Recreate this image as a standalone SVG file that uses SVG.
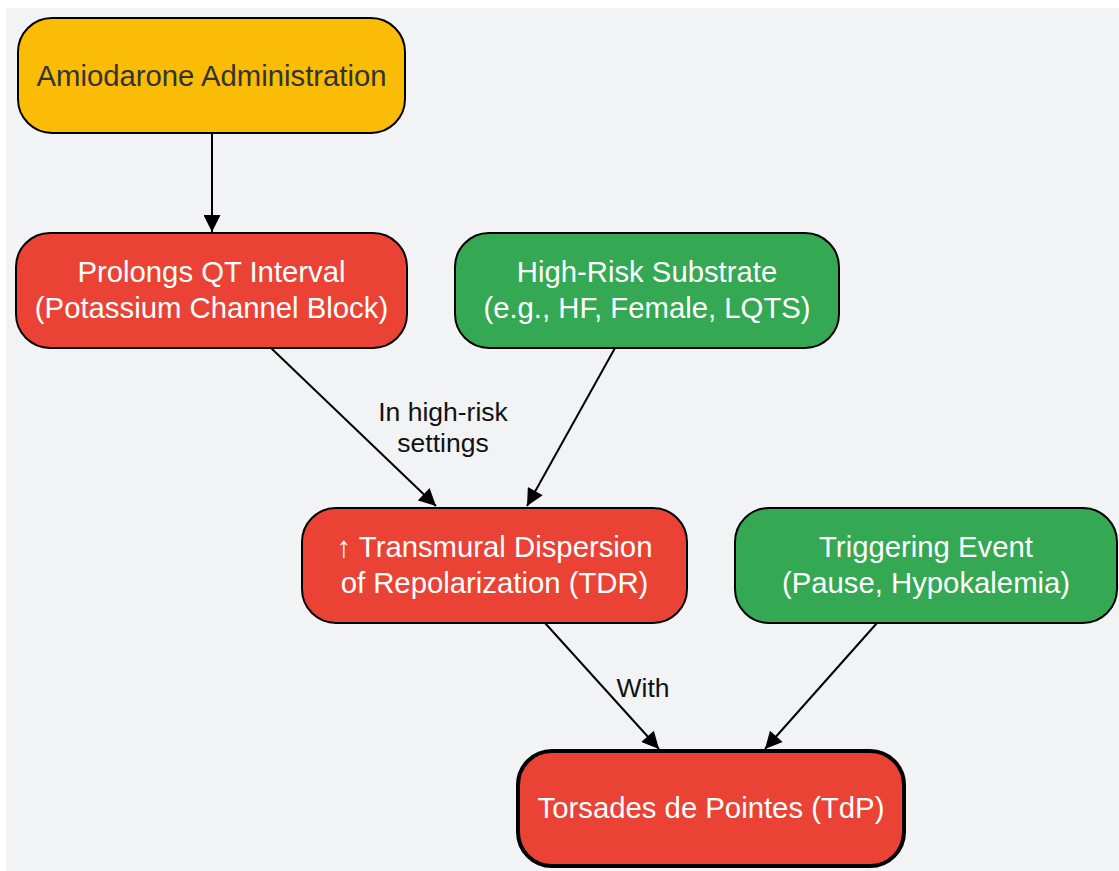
<svg xmlns="http://www.w3.org/2000/svg" width="1119" height="871" viewBox="0 0 1119 871">
<defs>
<marker id="ah" viewBox="0 0 10 10" refX="10" refY="5" markerWidth="18" markerHeight="17" markerUnits="userSpaceOnUse" orient="auto">
<path d="M0,0 L10,5 L0,10 Z" fill="#000"/>
</marker>
<style>
.node{stroke:#000;stroke-width:2}
.red{fill:#ea4335}
.green{fill:#34a853}
.yellow{fill:#fbbc05}
.t{font-family:"Liberation Sans",Arial,sans-serif;font-size:29.3px;text-anchor:middle;fill:#fff}
.dark{fill:#333}
.lbl{font-family:"Liberation Sans",Arial,sans-serif;font-size:26.5px;text-anchor:middle;fill:#111}
.edge{stroke:#000;stroke-width:2;fill:none;marker-end:url(#ah)}
</style>
</defs>
<rect x="0" y="0" width="1119" height="871" fill="#fff"/>
<rect x="6" y="8" width="1113" height="863" fill="#f2f3f5"/>
<g id="connectors">
<line class="edge" x1="212" y1="134" x2="212" y2="232"/>
<line class="edge" x1="271" y1="348" x2="436" y2="506"/>
<line class="edge" x1="615" y1="348" x2="527" y2="506"/>
<line class="edge" x1="545" y1="623" x2="659" y2="749"/>
<line class="edge" x1="877" y1="623" x2="765" y2="749"/>
<text class="lbl" x="443" y="421">In high-risk</text>
<text class="lbl" x="443" y="452">settings</text>
<text class="lbl" x="643" y="697">With</text>
</g>
<g id="n1">
<rect class="node yellow" x="18" y="18" width="387" height="115" rx="34"/>
<text class="t dark" x="211.5" y="86">Amiodarone Administration</text>
</g>
<g id="n2">
<rect class="node red" x="16" y="233" width="391" height="115" rx="34"/>
<text class="t" x="211.5" y="282">Prolongs QT Interval</text>
<text class="t" x="211.5" y="318">(Potassium Channel Block)</text>
</g>
<g id="n3">
<rect class="node green" x="455" y="233" width="384" height="115" rx="34"/>
<text class="t" x="647" y="282">High-Risk Substrate</text>
<text class="t" x="647" y="318">(e.g., HF, Female, LQTS)</text>
</g>
<g id="n4">
<rect class="node red" x="302" y="508" width="385" height="115" rx="34"/>
<text class="t" x="494.5" y="557">↑ Transmural Dispersion</text>
<text class="t" x="494.5" y="593">of Repolarization (TDR)</text>
</g>
<g id="n5">
<rect class="node green" x="735" y="508" width="382" height="115" rx="34"/>
<text class="t" x="926" y="557">Triggering Event</text>
<text class="t" x="926" y="593">(Pause, Hypokalemia)</text>
</g>
<g id="n6">
<rect class="node red" x="518" y="751" width="386" height="115" rx="34" style="stroke-width:4"/>
<text class="t" x="711" y="818">Torsades de Pointes (TdP)</text>
</g>
</svg>
